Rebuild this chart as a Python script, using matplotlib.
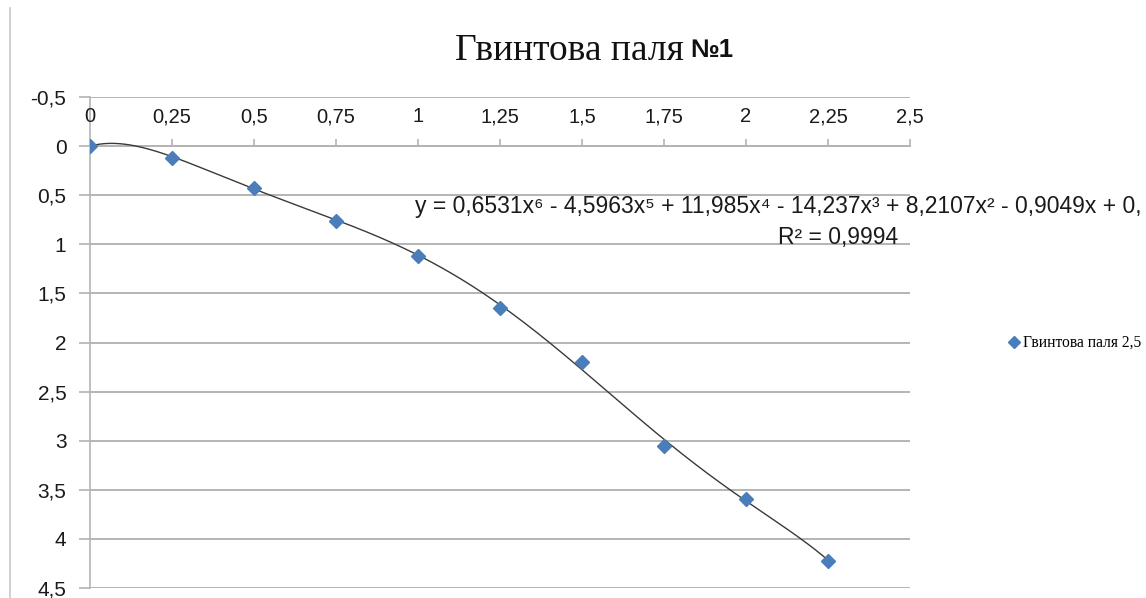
import numpy as np
import matplotlib
matplotlib.use("Agg")
import matplotlib.pyplot as plt
from matplotlib.lines import Line2D
from matplotlib.transforms import offset_copy

x_vals = [0, 0.25, 0.5, 0.75, 1.0, 1.25, 1.5, 1.75, 2.0, 2.25]
y_vals = [0, 0.12, 0.43, 0.76, 1.12, 1.65, 2.20, 3.05, 3.59, 4.23]

# polynomial trendline coefficients as printed on the chart (x^6 .. x^0)
# (the constant term is cut off in the picture, only "0," is visible)
trend_coefs = [0.6531, -4.5963, 11.985, -14.237, 8.2107, -0.9049, 0.0]
r_squared = 0.9994

x_ticks = [0, 0.25, 0.5, 0.75, 1, 1.25, 1.5, 1.75, 2, 2.25, 2.5]
y_ticks = [-0.5, 0, 0.5, 1, 1.5, 2, 2.5, 3, 3.5, 4, 4.5]

title_text = "Гвинтова паля"
title_num = "№1"
series_name = "Гвинтова паля 2,5"

GRID = "#b4b4b4"
BLUE = "#4a7ebb"
SANS = ["Liberation Sans", "DejaVu Sans"]
SERIF = ["Liberation Serif", "DejaVu Serif"]

plt.rcParams["font.family"] = SANS


def fmt(v):
    return ("%g" % v).replace(".", ",")


fig = plt.figure(figsize=(11.46, 5.98), dpi=100)
ax = fig.add_axes([90 / 1146, 1 - 588 / 598, 820 / 1146, 491 / 598])

# trendline
xs = np.linspace(0, 2.25, 300)
ax.plot(xs, np.polyval(trend_coefs, xs), color="#3a3a3a", lw=1.0, zorder=3)

# data points
ax.plot(x_vals, y_vals, "D", color=BLUE, ms=7.5, mec=BLUE, zorder=4,
        label=series_name)

ax.set_xlim(0, 2.5)
ax.set_ylim(4.5, -0.5)

# horizontal axis crosses at 0, labels sit above it (under the -0,5 line)
ax.xaxis.tick_top()
ax.spines["top"].set_position(("data", 0))
ax.set_xticks(x_ticks)
ax.tick_params(axis="x", direction="out", length=5, width=1.2, color=GRID,
               labeltop=False, labelbottom=False)
lbl_tr = offset_copy(ax.transData, fig=fig, y=24, units="dots")
for xv in x_ticks:
    ax.text(xv, 0, fmt(xv), transform=lbl_tr, ha="center", va="baseline",
            fontsize=14.5, color="#1a1a1a", clip_on=False)

ax.set_yticks(y_ticks)
ax.set_yticklabels([fmt(v) for v in y_ticks])
ax.tick_params(axis="y", direction="out", length=8, width=1.2, color=GRID,
               pad=9, labelsize=15, labelcolor="#1a1a1a")

for s in ["right", "bottom"]:
    ax.spines[s].set_visible(False)
ax.spines["left"].set_color(GRID)
ax.spines["left"].set_linewidth(1.2)
ax.spines["top"].set_color(GRID)
ax.spines["top"].set_linewidth(1.4)

ax.yaxis.grid(True, color=GRID, lw=1.4)
ax.set_axisbelow(True)
ax.patch.set_visible(False)

# trendline equation (as far as it is visible in the picture)
eq = ("y = 0,6531x⁶ - 4,5963x⁵ + 11,985x⁴ - 14,237x³ + 8,2107x² "
      "- 0,9049x + 0,")
fig.text(415 / 1146, 1 - 206 / 598, eq, family=SANS, fontsize=16.5,
         va="center", ha="left", color="#1a1a1a")
fig.text(838 / 1146, 1 - 237 / 598, "R² = " + fmt(r_squared), family=SANS,
         fontsize=16.5, va="center", ha="center", color="#1a1a1a")

# title
fig.text(684 / 1146, 1 - 51 / 598, title_text, family=SERIF,
         fontsize=27, ha="right", va="center", color="#111111")
fig.text(690 / 1146, 1 - 50 / 598, title_num, family=SANS,
         fontsize=18.5, weight="bold", ha="left", va="center",
         color="#111111")

# legend
fig.legend(handles=[Line2D([], [], ls="none", marker="D", color=BLUE, ms=6)],
           labels=[series_name], loc="center left",
           bbox_to_anchor=(1003 / 1146, 1 - 343 / 598), frameon=False,
           prop={"family": SERIF, "size": 11.2}, handlelength=0.6,
           handletextpad=0.3, borderaxespad=0)

# chart-area border on the left
fig.add_artist(Line2D([10 / 1146, 10 / 1146], [0, 1 - 8 / 598],
                      color="#c8c8c8", lw=1.2))

fig.savefig("out.png", dpi=100)
